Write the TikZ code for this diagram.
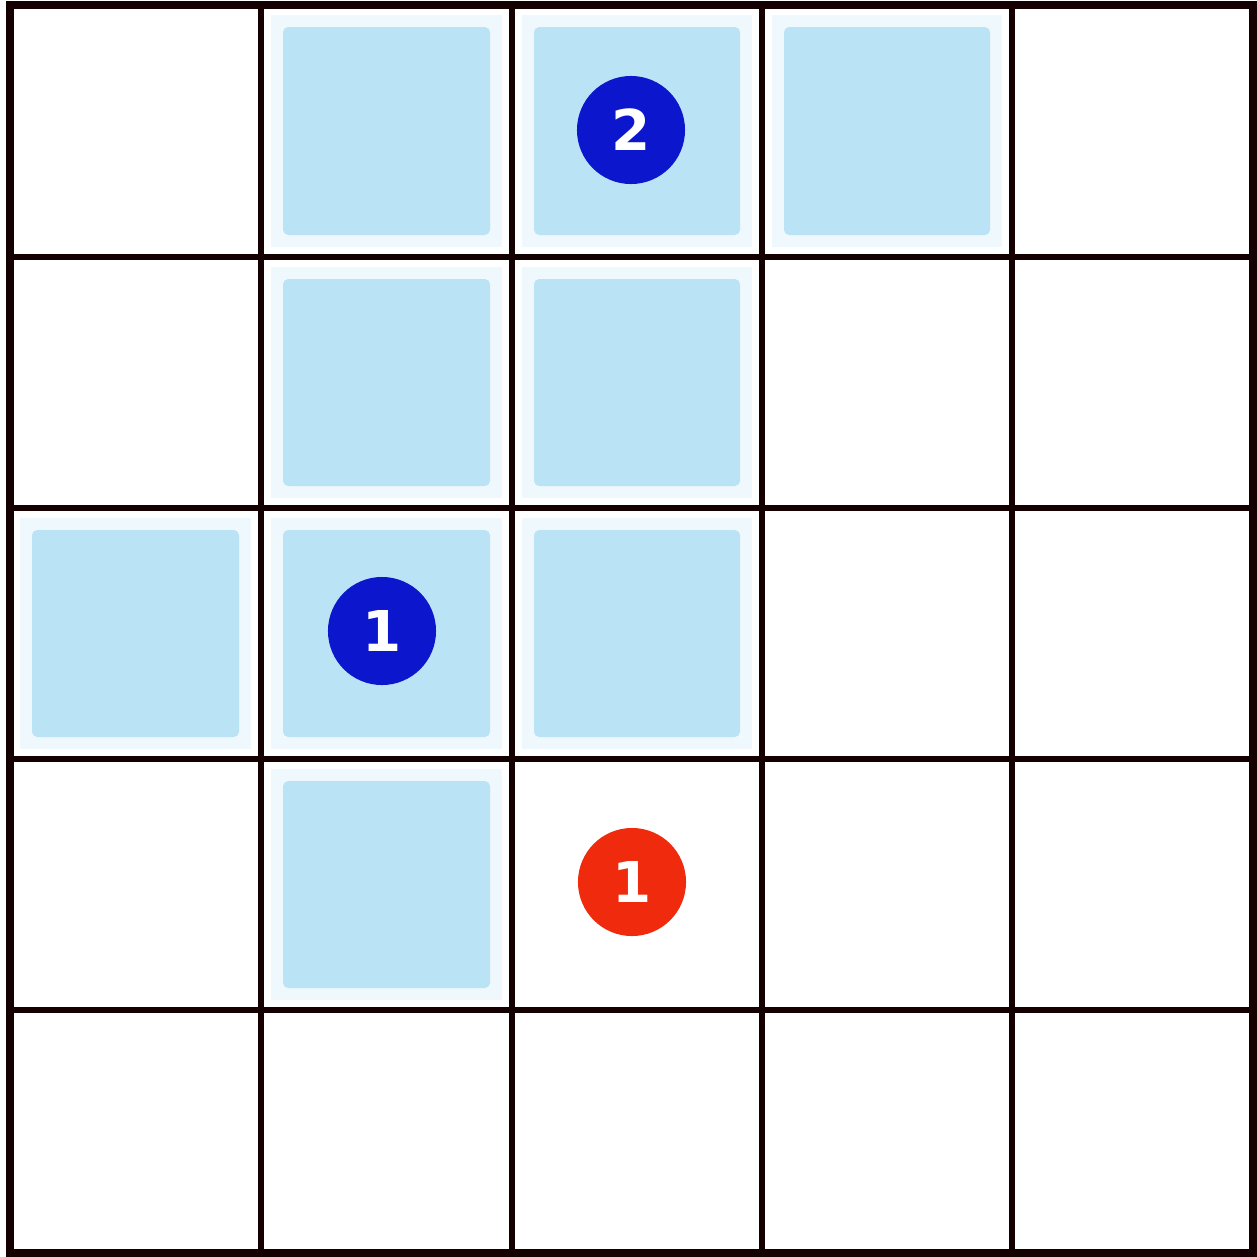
\documentclass[tikz,border=0pt]{standalone}
\usepackage{fontspec}
\usepackage{tikz}
\usetikzlibrary{positioning}
\newfontfamily\tokenfont{DejaVu Sans}
\definecolor{tileblue}{RGB}{186,227,245}
\definecolor{haloblue}{RGB}{238,248,253}
\definecolor{tokenblue}{RGB}{12,22,205}
\definecolor{tokenred}{RGB}{240,42,12}

\begin{document}
\begin{tikzpicture}[
  x=0.01cm, y=-0.01cm,
  gridline/.style={line width=1.5pt, black!92!red},
  halo/.style={fill=haloblue},
  tile/.style={fill=tileblue, rounded corners=1.5pt},
  token/.style={circle, minimum size=1.08cm, inner sep=0pt, text=white,
                font=\tokenfont\bfseries\fontsize{16}{16}\selectfont},
]
  \useasboundingbox (0,0) rectangle (1257,1257);
  \fill[white] (0,0) rectangle (1257,1257);

  % Shaded tiles (column/row)
  \foreach \c/\r in {1/0,2/0,3/0,1/1,2/1,0/2,1/2,2/2,1/3} {
    \pgfmathsetmacro{\xl}{{10,261,512,762,1012,1253}[\c]}
    \pgfmathsetmacro{\xr}{{10,261,512,762,1012,1253}[\c+1]}
    \pgfmathsetmacro{\yt}{{5,257,508,759,1010,1253}[\r]}
    \pgfmathsetmacro{\yb}{{5,257,508,759,1010,1253}[\r+1]}
    \fill[halo] (\xl+10,\yt+10) rectangle (\xr-10,\yb-10);
    \fill[tile] (\xl+22,\yt+22) rectangle (\xr-22,\yb-22);
  }

  % Grid
  \foreach \x in {261,512,762,1012}
    \draw[gridline] (\x,5) -- (\x,1253);
  \foreach \y in {257,508,759,1010}
    \draw[gridline] (10,\y) -- (1253,\y);
  \draw[gridline, line width=2pt] (10,5) rectangle (1253,1253);

  % Tokens
  \node[token, fill=tokenblue] (blue2) at (631,130) {2};
  \node[token, fill=tokenblue] (blue1) at (382,631) {1};
  \node[token, fill=tokenred] (red1) at (632,882) {1};

\end{tikzpicture}
\end{document}
